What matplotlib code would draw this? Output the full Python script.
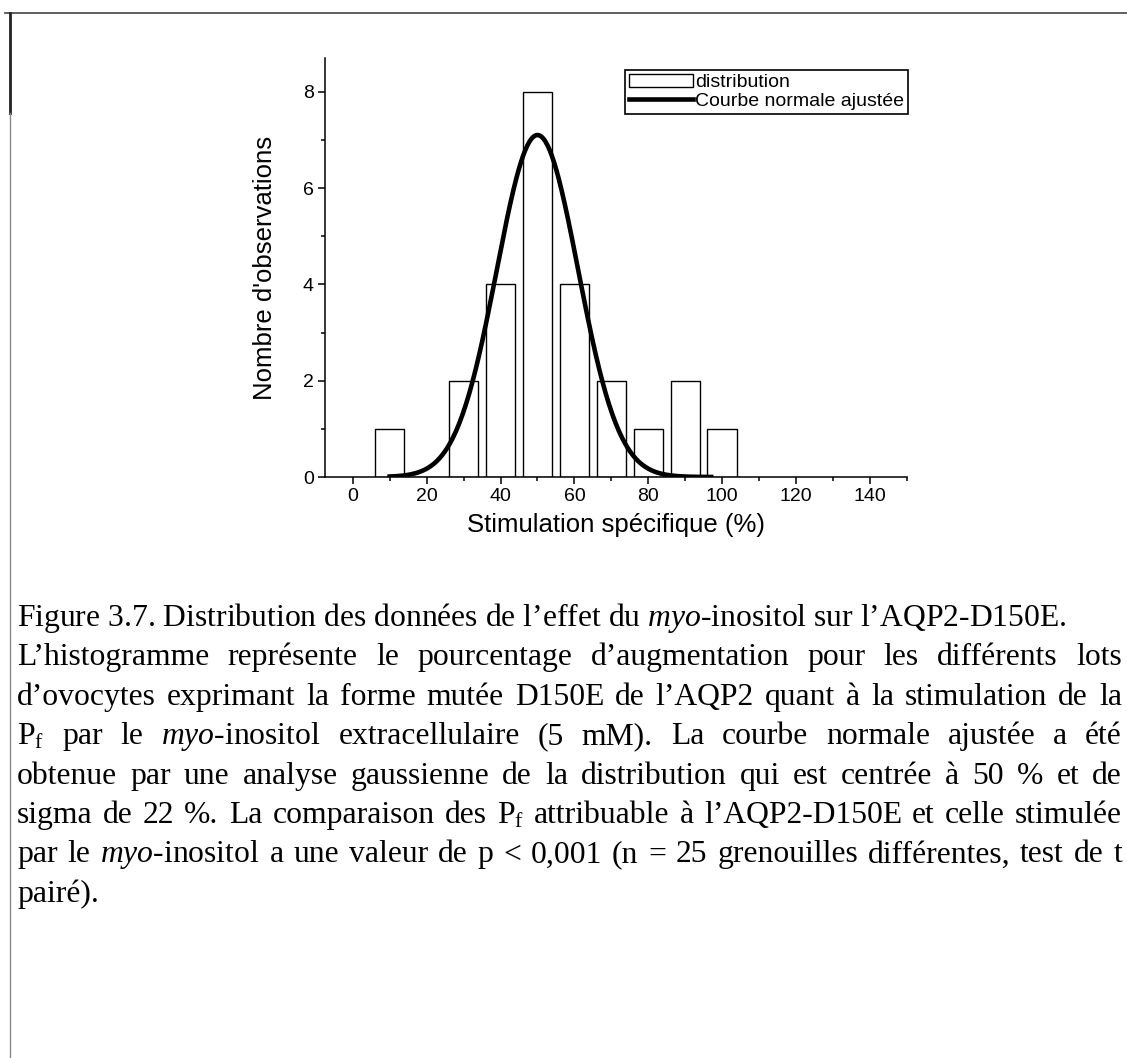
import numpy as np
import matplotlib
matplotlib.use('Agg')
import matplotlib.pyplot as plt
from matplotlib.patches import Patch
from matplotlib.lines import Line2D
from matplotlib.transforms import IdentityTransform

# histogram data (bin centres, counts)
bin_centres = [10, 20, 30, 40, 50, 60, 70, 80, 90, 100]
counts = [1, 0, 2, 4, 8, 4, 2, 1, 2, 1]
bar_width = 8

# fitted normal curve parameters (Origin gauss: w = 2*sigma)
fit_centre = 50
fit_w = 22
fit_peak = 7.1
fit_range = (10, 97)

x_ticks = [0, 20, 40, 60, 80, 100, 120, 140]
y_ticks = [0, 2, 4, 6, 8]

caption_lines = [
    "Figure 3.7. Distribution des données de l’effet du $\\mathit{myo}$-inositol sur l’AQP2-D150E.",
    "L’histogramme représente le pourcentage d’augmentation pour les différents lots",
    "d’ovocytes exprimant la forme mutée D150E de l’AQP2 quant à la stimulation de la",
    "P$_\\mathrm{f}$ par le $\\mathit{myo}$-inositol extracellulaire (5 mM). La courbe normale ajustée a été",
    "obtenue par une analyse gaussienne de la distribution qui est centrée à 50 % et de",
    "sigma de 22 %. La comparaison des P$_\\mathrm{f}$ attribuable à l’AQP2-D150E et celle stimulée",
    "par le $\\mathit{myo}$-inositol a une valeur de p < 0,001 (n = 25 grenouilles différentes, test de t",
    "pairé).",
]
justified = [False, True, True, True, True, True, True, False]

plt.rcParams['mathtext.fontset'] = 'custom'
plt.rcParams['mathtext.rm'] = 'Liberation Serif'
plt.rcParams['mathtext.it'] = 'Liberation Serif:italic'

W, H = 1127, 1058
fig = plt.figure(figsize=(W / 100, H / 100), dpi=100)
sans = ['Liberation Sans', 'DejaVu Sans']

ax = fig.add_axes([325 / W, 1 - 477 / H, 582 / W, 419 / H])
ax.bar(bin_centres, counts, width=bar_width, color='white', edgecolor='black',
       linewidth=1.0, label='distribution', zorder=2)

xs = np.linspace(fit_range[0], fit_range[1], 300)
sigma = fit_w / 2
ys = fit_peak * np.exp(-(xs - fit_centre) ** 2 / (2 * sigma ** 2))
ax.plot(xs, ys, color='black', linewidth=3.3, label='Courbe normale ajustée', zorder=3)

ax.set_xlim(-7.5, 150)
ax.set_ylim(0, 8.7)
ax.set_xticks(x_ticks)
ax.set_yticks(y_ticks)
ax.set_xticks(np.arange(10, 151, 20), minor=True)
ax.set_yticks([1, 3, 5, 7], minor=True)
ax.spines['top'].set_visible(False)
ax.spines['right'].set_visible(False)
for s in ['left', 'bottom']:
    ax.spines[s].set_linewidth(1.1)
ax.tick_params(which='major', direction='out', length=5, width=1.1, labelsize=14, pad=3)
ax.tick_params(which='minor', direction='out', length=3, width=1.1)
for lab in ax.get_xticklabels() + ax.get_yticklabels():
    lab.set_fontfamily(sans)
ax.set_xlabel('Stimulation spécifique (%)', fontsize=18.5, family=sans, labelpad=6)
ax.set_ylabel("Nombre d'observations", fontsize=18.5, family=sans, labelpad=19)

handles = [Patch(facecolor='white', edgecolor='black', linewidth=1.0),
           Line2D([], [], color='black', linewidth=3.3)]
leg = ax.legend(handles, ['distribution', 'Courbe normale ajustée'], loc='upper right',
                bbox_to_anchor=(1.002, 0.972), borderaxespad=0, fancybox=False,
                framealpha=1, edgecolor='black', prop={'family': sans, 'size': 14},
                handlelength=3.3, handletextpad=0.1, labelspacing=0.05,
                borderpad=0.2)
leg.get_frame().set_linewidth(1.2)

# page frame lines
fig.add_artist(Line2D([5 / W, 1], [1 - 13 / H, 1 - 13 / H], color='#444444', linewidth=1.2,
                      transform=fig.transFigure))
fig.add_artist(Line2D([10 / W, 10 / W], [1 - 13 / H, 1 - 113 / H], color='#222222',
                      linewidth=2.0, transform=fig.transFigure))
fig.add_artist(Line2D([10 / W, 10 / W], [1 - 113 / H, 0], color='#888888',
                      linewidth=1.0, transform=fig.transFigure))

# caption, justified like the page
renderer = fig.canvas.get_renderer()
left_px, right_px = 17, 1122
baseline0 = 626
line_gap = 39.4
cap_size = 22.8
for i, line in enumerate(caption_lines):
    y = H - (baseline0 + i * line_gap)
    if not justified[i]:
        fig.text(left_px, y, line, transform=IdentityTransform(), family='Liberation Serif',
                 fontsize=cap_size, va='baseline', ha='left')
        continue
    words = line.split(' ')
    texts = []
    total = 0
    for w in words:
        t = fig.text(0, y, w, transform=IdentityTransform(), family='Liberation Serif',
                     fontsize=cap_size, va='baseline', ha='left')
        wd = t.get_window_extent(renderer).width
        texts.append((t, wd))
        total += wd
    gap = (right_px - left_px - total) / (len(words) - 1)
    x = left_px
    for t, wd in texts:
        t.set_x(x)
        x += wd + gap

fig.savefig('out.png', dpi=100)
